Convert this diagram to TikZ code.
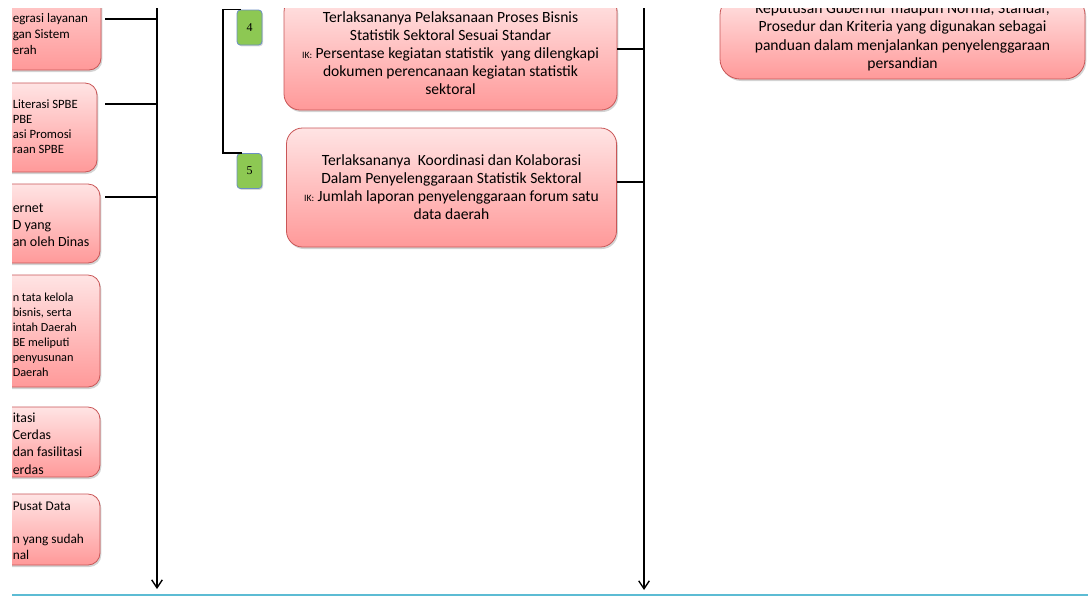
\documentclass[tikz,border=0pt]{standalone}
\usepackage{fontspec}
\setmainfont{Carlito}
\newfontfamily\angka{Liberation Serif}
\usetikzlibrary{shadows,arrows.meta}

\definecolor{merahTepi}{HTML}{C95657}
\definecolor{merahAtas}{HTML}{FFE4E4}
\definecolor{merahBawah}{HTML}{FF9999}
\definecolor{hijauIsi}{HTML}{8DC853}
\definecolor{biruTepi}{HTML}{6C8FC4}
\definecolor{garisCyan}{HTML}{5CBCD4}

\def\skala{0.75pt}
\newcommand{\ikLabel}{{\fontsize{7.3}{8}\selectfont IK:}}

\begin{document}
\begin{tikzpicture}[x=0.75pt, y=-0.75pt,
	kotak/.style={draw=merahTepi, line width=0.6pt, top color=merahAtas, bottom color=merahBawah,
		rounded corners=9pt, inner sep=0pt,
		drop shadow={shadow xshift=1pt, shadow yshift=-1.5pt, opacity=0.35}},
	teksKiri/.style={anchor=west, align=left, inner sep=0pt},
	teksTengah/.style={align=center, font=\fontsize{11.7}{13.5}\selectfont},
	nomor/.style={draw=biruTepi, fill=hijauIsi, rounded corners=2.5pt, line width=0.6pt,
		minimum width=25*\skala, minimum height=35*\skala, inner sep=0pt,
		font=\angka\fontsize{9}{10}\selectfont,
		drop shadow={shadow xshift=0.8pt, shadow yshift=-1pt, opacity=0.3}},
	konektor/.style={draw=black, line width=1.4pt},
	kurung/.style={draw=black, line width=1.1pt},
	spina/.style={draw=black, line width=1pt, -{Straight Barb[length=6pt, width=8pt]}},
]

	\useasboundingbox (0,0) rectangle (1088,597);

	\def\xSpinaKiri{157}
	\def\xSpinaKanan{644}
	\def\xKurung{223}

	\begin{scope}
	\clip (12,8) rectangle (1088,597);

	%KOTAK: KIRI
	\node[kotak, minimum width=200*\skala, minimum height=110*\skala] (kA) at (1,15) {};
	\node[kotak, minimum width=200*\skala, minimum height=89*\skala] (kB) at (-3,127.5) {};
	\node[kotak, minimum width=200*\skala, minimum height=79*\skala] (kC) at (0,223.5) {};
	\node[kotak, minimum width=200*\skala, minimum height=112*\skala] (kD) at (0,331) {};
	\node[kotak, minimum width=200*\skala, minimum height=70*\skala] (kE) at (0,442) {};
	\node[kotak, minimum width=200*\skala, minimum height=71*\skala] (kF) at (0,529.5) {};

	\node[teksKiri, font=\fontsize{9.8}{12}\selectfont] (tA) at (12.5,34) {egrasi layanan\\gan Sistem\\erah};
	\node[teksKiri, font=\fontsize{9.5}{11.25}\selectfont] (tB) at (12.5,127) {Literasi SPBE\\PBE\\asi Promosi\\raan SPBE};
	\node[teksKiri, font=\fontsize{10.5}{12.75}\selectfont] (tC) at (12.5,225) {ernet\\D yang\\an oleh Dinas};
	\node[teksKiri, font=\fontsize{9.2}{11.25}\selectfont] (tD) at (12.5,334.5) {n tata kelola\\bisnis, serta\\intah Daerah\\BE meliputi\\penyusunan\\Daerah};
	\node[teksKiri, font=\fontsize{10.4}{13}\selectfont] (tE) at (12.5,443.5) {itasi\\Cerdas\\dan fasilitasi\\erdas};
	\node[teksKiri, font=\fontsize{10}{12.4}\selectfont] (tF) at (12.5,530.75) {Pusat Data\\\mbox{}\\n yang sudah\\nal};

	%KOTAK: TENGAH
	\node[nomor] (g4) at (249.5,27.5) {4};
	\node[nomor] (g5) at (249.5,171) {5};

	\node[kotak, teksTengah, rounded corners=12pt, minimum width=333*\skala, minimum height=114*\skala] (m4) at (450.5,53)
		{Terlaksananya Pelaksanaan Proses Bisnis\\Statistik Sektoral Sesuai Standar\\\ikLabel\ Persentase kegiatan statistik \ yang dilengkapi\\dokumen perencanaan kegiatan statistik\\sektoral};
	\node[kotak, teksTengah, rounded corners=12pt, minimum width=330*\skala, minimum height=119*\skala] (m5) at (451.5,187.5)
		{Terlaksananya \ Koordinasi dan Kolaborasi\\Dalam Penyelenggaraan Statistik Sektoral\\\ikLabel\ Jumlah laporan penyelenggaraan forum satu\\data daerah};

	%KOTAK: KANAN
	\node[kotak, align=center, font=\fontsize{11.7}{13.9}\selectfont, rounded corners=15pt, minimum width=365*\skala, minimum height=84*\skala] (kanan) at (902.5,37)
		{Keputusan Gubernur maupun Norma, Standar,\\Prosedur dan Kriteria yang digunakan sebagai\\panduan dalam menjalankan penyelenggaraan\\persandian};

	%SPINA
	\coordinate (spKiri) at (\xSpinaKiri,0);
	\coordinate (spKiriUjung) at (\xSpinaKiri,589);
	\coordinate (spKanan) at (\xSpinaKanan,0);
	\coordinate (spKananUjung) at (\xSpinaKanan,590);
	\draw[spina] (spKiri) -- (spKiriUjung);
	\draw[spina] (spKanan) -- (spKananUjung);

	%KONEKTOR
	\coordinate (cA) at (\xSpinaKiri,19);
	\coordinate (cB) at (\xSpinaKiri,104);
	\coordinate (cC) at (\xSpinaKiri,197);
	\coordinate (c4) at (\xSpinaKanan,49);
	\coordinate (c5) at (\xSpinaKanan,182);
	\draw[konektor] ([xshift=4*\skala]kA.east |- cA) -- (cA);
	\draw[konektor] ([xshift=8*\skala]kB.east |- cB) -- (cB);
	\draw[konektor] ([xshift=5*\skala]kC.east |- cC) -- (cC);
	\draw[konektor] (m4.east |- c4) -- (c4);
	\draw[konektor] (m5.east |- c5) -- (c5);

	%KURUNG
	\coordinate (kurungX) at (\xKurung,0);
	\draw[kurung] ([xshift=4*\skala]g4.north west) -- (g4.north west -| kurungX)
		-- (g5.north west -| kurungX) -- ([xshift=5*\skala]g5.north west);

	%GARIS DASAR
	\coordinate (dasarKiri) at (0,595);
	\coordinate (dasarKanan) at (1088,595);
	\draw[draw=garisCyan, line width=1.5pt] (dasarKiri) -- (dasarKanan);

	\end{scope}

\end{tikzpicture}
\end{document}
